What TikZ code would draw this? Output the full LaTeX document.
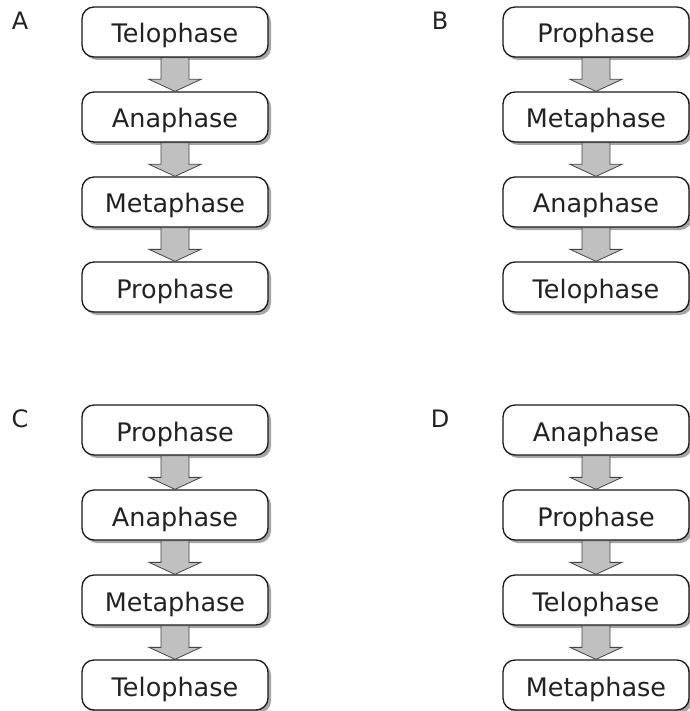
\documentclass[tikz,border=0pt]{standalone}
\usepackage{fontspec}
\setmainfont{DejaVu Sans}
\usetikzlibrary{calc,shadows}
\definecolor{txt}{HTML}{222222}
\definecolor{arrowfill}{HTML}{C0C0C0}
\definecolor{arrowline}{HTML}{444444}
\tikzset{
  phasebox/.style={draw=black!90, line width=1.3pt, rounded corners=12pt, fill=white,
    minimum width=186pt, minimum height=50pt, inner sep=0pt,
    text height=22pt, text depth=0pt, text=txt,
    font=\fontsize{25.5}{30}\selectfont,
    drop shadow={shadow xshift=3pt, shadow yshift=-3pt, fill=black!35, opacity=1}},
  letterlabel/.style={anchor=base, inner sep=0pt, text=txt, font=\fontsize{24}{28}\selectfont},
  fatarrow/.style={fill=arrowfill, draw=arrowline, line width=0.8pt, line join=miter}
}
\newcommand{\fatarr}[2]{%
  \draw[fatarrow] ($(#1.south)+(-14,0)$) -- ($(#1.south)+(14,0)$)
    -- ($(#2.north)+(14,-12)$) -- ($(#2.north)+(26,-12)$) -- (#2.north)
    -- ($(#2.north)+(-26,-12)$) -- ($(#2.north)+(-14,-12)$) -- cycle;}
\begin{document}
\begin{tikzpicture}[x=1pt,y=-1pt]
\useasboundingbox (0,0) rectangle (689,711);
% labels
\node[letterlabel] (la) at (20,30) {A};
\node[letterlabel] (lb) at (440,30) {B};
\node[letterlabel] (lc) at (20,427) {C};
\node[letterlabel] (ld) at (440,427) {D};
% column A
\node[phasebox] (a1) at (175,32) {Telophase};
\node[phasebox] (a2) at (175,117) {Anaphase};
\node[phasebox] (a3) at (175,202) {Metaphase};
\node[phasebox] (a4) at (175,287) {Prophase};
% column B
\node[phasebox] (b1) at (596,32) {Prophase};
\node[phasebox] (b2) at (596,117) {Metaphase};
\node[phasebox] (b3) at (596,202) {Anaphase};
\node[phasebox] (b4) at (596,287) {Telophase};
% column C
\node[phasebox] (c1) at (175,430) {Prophase};
\node[phasebox] (c2) at (175,515) {Anaphase};
\node[phasebox] (c3) at (175,600) {Metaphase};
\node[phasebox] (c4) at (175,685) {Telophase};
% column D
\node[phasebox] (d1) at (596,430) {Anaphase};
\node[phasebox] (d2) at (596,515) {Prophase};
\node[phasebox] (d3) at (596,600) {Telophase};
\node[phasebox] (d4) at (596,685) {Metaphase};
% arrows
\fatarr{a1}{a2}\fatarr{a2}{a3}\fatarr{a3}{a4}
\fatarr{b1}{b2}\fatarr{b2}{b3}\fatarr{b3}{b4}
\fatarr{c1}{c2}\fatarr{c2}{c3}\fatarr{c3}{c4}
\fatarr{d1}{d2}\fatarr{d2}{d3}\fatarr{d3}{d4}
\end{tikzpicture}
\end{document}
